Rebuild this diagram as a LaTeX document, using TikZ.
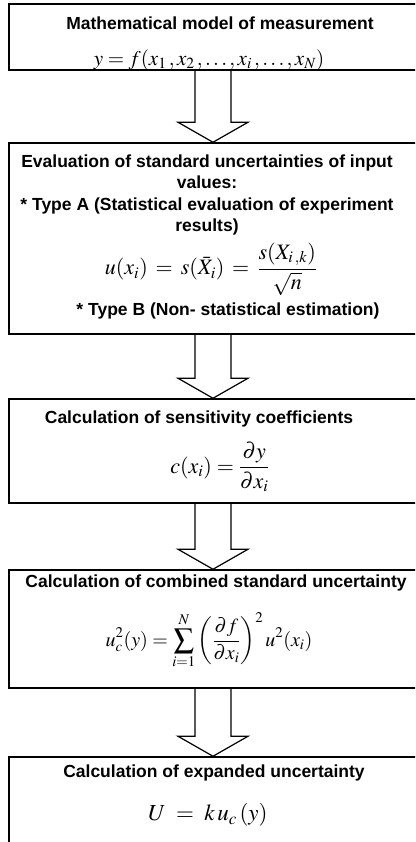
\documentclass[tikz,border=0pt]{standalone}
\usepackage{amsmath}
\usepackage{mathptmx}
\usepackage[no-math]{fontspec}
\setmainfont{Liberation Sans}
\usetikzlibrary{calc}
\newcommand{\flowarrow}[2]{%
  \draw[blockarrow] ($(#1.south)+(-18,0)$) -- ($(#2.north)+(-18,20)$) -- ($(#2.north)+(-35,20)$)
    -- (#2.north) -- ($(#2.north)+(35,20)$) -- ($(#2.north)+(18,20)$) -- ($(#1.south)+(18,0)$);}

\begin{document}
\begin{tikzpicture}[x=1pt, y=1pt,
    stage/.style={rectangle, draw, line width=1.5pt, inner sep=0pt, minimum width=408pt, minimum height=#1},
    heading/.style={font=\fontsize{17.5}{21.5}\selectfont\bfseries, align=center, inner sep=0pt},
    formula/.style={font=\fontsize{#1}{#1}\selectfont, inner sep=0pt},
    formula/.default=20,
    blockarrow/.style={line width=1.2pt, line join=miter}
]
\useasboundingbox (0,0) rectangle (415,-842);
\clip (0,0) rectangle (415,-842);
% frames
\node[stage=66pt] (model) at (213,-37) {};
\node[stage=191pt] (evaluation) at (213,-238.5) {};
\node[stage=104pt] (sensitivity) at (213,-451) {};
\node[stage=118pt] (combined) at (213,-629) {};
\node[stage=113pt] (expanded) at (213,-813.5) {};
% texts
\node[heading] (modeltitle) at (220,-23) {Mathematical model of measurement};
\node[formula=21] (modeleq) at (209,-60) {$y = f(x_1\,, x_2\,, \dots, x_i\,, \dots, x_N)$};
\node[heading] (evaltitle) at (207,-195) {Evaluation of standard uncertainties of input\\ values:\\ * Type A (Statistical evaluation of experiment\\ results)};
\node[formula=22] (evaleq) at (211,-269) {$\displaystyle u(x_i) \:=\: s(\bar{X}_i) \:=\: \frac{s(X_{i\,,k})}{\sqrt{n}}$};
\node[heading] (typeb) at (228,-311) {* Type B (Non- statistical estimation)};
\node[heading] (senstitle) at (199,-419) {Calculation of sensitivity coefficients};
\node[formula=22] (senseq) at (220,-467) {$\displaystyle c(x_i) = \frac{\partial y}{\partial x_i}$};
\node[heading] (combtitle) at (216,-583) {Calculation of combined standard uncertainty};
\node[formula=20] (combeq) at (209,-641) {$\displaystyle u_c^2(y) = \sum_{i=1}^{N} \left(\frac{\partial f}{\partial x_i}\right)^2 u^2(x_i)$};
\node[heading] (exptitle) at (214,-773) {Calculation of expanded uncertainty};
\node[formula=23] (expeq) at (208,-815) {$U \;=\; k\,u_c\,(y)$};
% arrows
\flowarrow{model}{evaluation}
\flowarrow{evaluation}{sensitivity}
\flowarrow{sensitivity}{combined}
\flowarrow{combined}{expanded}
\end{tikzpicture}
\end{document}
